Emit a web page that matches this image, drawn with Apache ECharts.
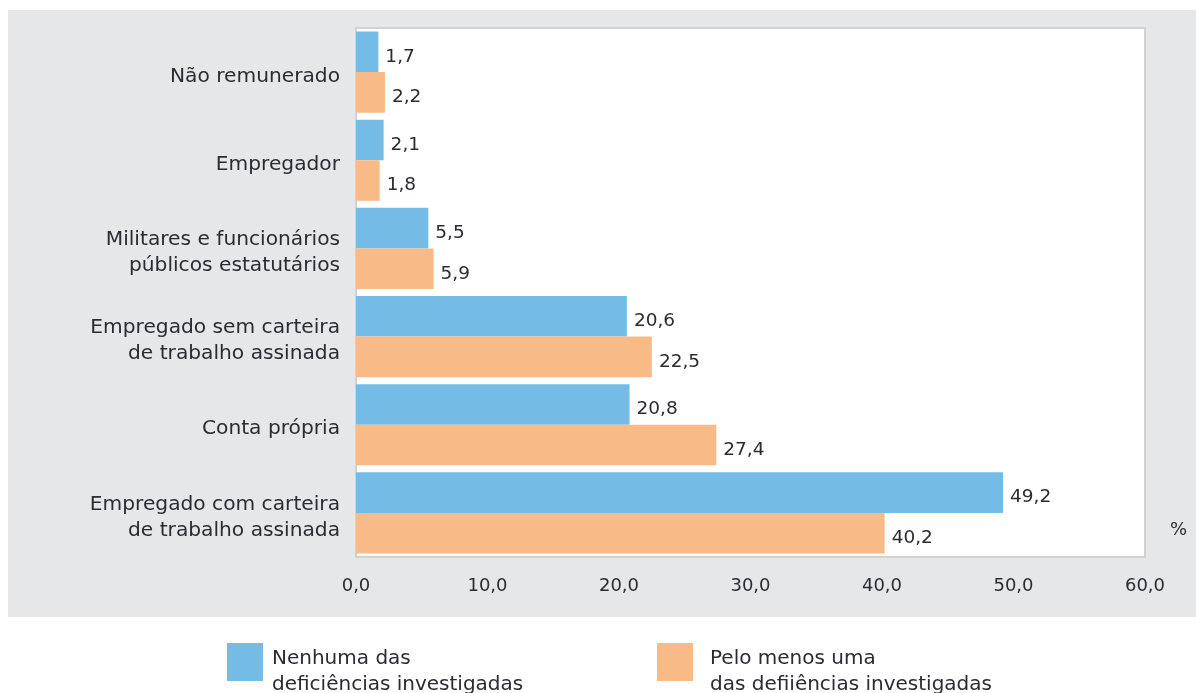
<!DOCTYPE html>
<html>
<head>
<meta charset="utf-8">
<script src="https://cdn.jsdelivr.net/npm/echarts@6/dist/echarts.min.js"></script>
<style>
  html, body { margin: 0; padding: 0; background: #fff; }
  #chart { width: 1196px; height: 693px; }
</style>
</head>
<body>
<div id="chart"></div>
<script>
// categorias, de cima para baixo
const categorias = [
  'Não remunerado',
  'Empregador',
  'Militares e funcionários\npúblicos estatutários',
  'Empregado sem carteira\nde trabalho assinada',
  'Conta própria',
  'Empregado com carteira\nde trabalho assinada'
];
const nenhuma = [1.7, 2.1, 5.5, 20.6, 20.8, 49.2];
const peloMenos = [2.2, 1.8, 5.9, 22.5, 27.4, 40.2];
const nomes = ['Nenhuma das\ndeficiências investigadas', 'Pelo menos uma\ndas defiiências investigadas'];

const fonte = 'DejaVu Sans';
const corTexto = '#2b2b33';
const virgula = v => v.toFixed(1).replace('.', ',');

const chart = echarts.init(document.getElementById('chart'));

const legenda = (nome, left, recuo) => ({
  data: [nome],
  left: left,
  top: 621,
  orient: 'vertical',
  itemWidth: 36,
  itemHeight: 38,
  icon: 'rect',
  selectedMode: false,
  // linha vazia no topo para descer o texto em relacao ao quadrado
  formatter: n => '{s| }\n' + n,
  textStyle: {
    fontFamily: fonte, fontSize: 20, color: corTexto,
    lineHeight: 26, padding: [0, 0, 0, recuo],
    rich: { s: { fontSize: 4, lineHeight: 20 } }
  }
});

const rotulo = {
  show: true, position: 'right', distance: 7, offset: [0, 5],
  formatter: p => virgula(p.value),
  fontFamily: fonte, fontSize: 18.5, color: corTexto
};

chart.setOption({
  animation: false,
  backgroundColor: '#fff',
  graphic: [
    {
      type: 'rect', z: -10, silent: true,
      shape: { x: 8, y: 10, width: 1188, height: 607 },
      style: { fill: '#e6e7e8' }
    },
    {
      type: 'text', left: 1170, top: 521,
      style: { text: '%', fontFamily: fonte, fontSize: 18, fill: corTexto }
    }
  ],
  legend: [legenda(nomes[0], 222, 4), legenda(nomes[1], 652, 12)],
  grid: {
    left: 356, right: 51, top: 28, bottom: 136,
    show: true, backgroundColor: '#fff',
    borderColor: '#d2d2d2', borderWidth: 2
  },
  xAxis: {
    type: 'value', min: 0, max: 60, interval: 10,
    splitLine: { show: false },
    axisLine: { show: false },
    axisTick: { show: false },
    axisLabel: {
      formatter: virgula, margin: 20,
      fontFamily: fonte, fontSize: 18, color: corTexto
    }
  },
  yAxis: {
    type: 'category', data: categorias, inverse: true,
    axisLine: { show: false },
    axisTick: { show: false },
    axisLabel: {
      margin: 16, fontFamily: fonte, fontSize: 20.2,
      color: corTexto, lineHeight: 26, align: 'right',
      // linha vazia no topo empurra o texto uns 4px para baixo
      formatter: v => '{s| }\n' + v,
      rich: { s: { fontSize: 4, lineHeight: 9 } }
    }
  },
  series: [
    {
      name: nomes[0], type: 'bar', data: nenhuma,
      barGap: '0%', barCategoryGap: '8%',
      itemStyle: { color: '#74bce6' },
      label: rotulo
    },
    {
      name: nomes[1], type: 'bar', data: peloMenos,
      barGap: '0%', barCategoryGap: '8%',
      itemStyle: { color: '#f8bb87' },
      label: rotulo
    }
  ]
});
</script>
</body>
</html>
